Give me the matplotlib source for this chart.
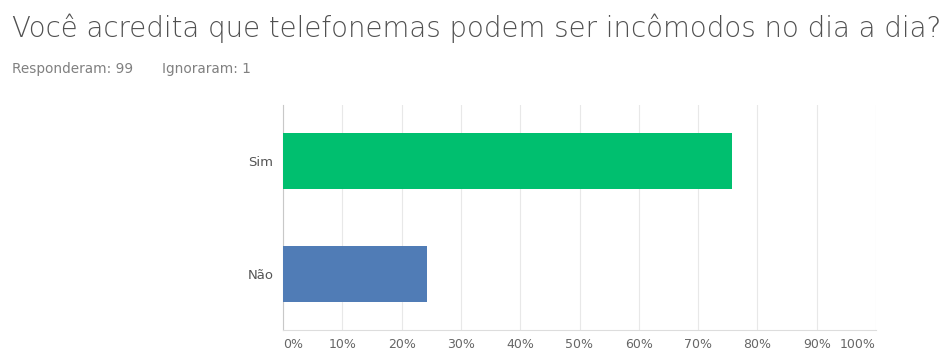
import matplotlib as mpl
mpl.use('Agg')
import matplotlib.pyplot as plt
from matplotlib.ticker import FuncFormatter

# data
categories = ['Sim', 'Não']
percents   = [75.76, 24.24]
bar_colors = ['#00bf6f', '#507cb6']
x_ticks    = [0, 10, 20, 30, 40, 50, 60, 70, 80, 90, 100]

title    = 'Você acredita que telefonemas podem ser incômodos no dia a dia?'
answered = 'Responderam: 99'
skipped  = 'Ignoraram: 1'

plt.rcParams['font.family'] = ['DejaVu Sans']

W, H = 942, 355
fig = plt.figure(figsize=(W / 100, H / 100), dpi=100)
ax = fig.add_axes([283 / W, 1 - 330 / H, 593 / W, 225 / H])

y_pos = list(range(len(categories)))
ax.barh(y_pos, percents, height=0.5, color=bar_colors, zorder=3)

ax.set_xlim(0, 100)
ax.set_ylim(1.5, -0.5)
ax.set_yticks(y_pos)
ax.set_yticklabels(categories, fontsize=9.5, color='#555555')
ax.set_xticks(x_ticks)
ax.xaxis.set_major_formatter(FuncFormatter(lambda v, p: '%d%%' % v))
ax.tick_params(axis='x', length=0, pad=6, labelsize=9, labelcolor='#666666')
ax.tick_params(axis='y', length=0, pad=7)

# first and last tick labels sit inside the axis ends
xlabels = ax.get_xticklabels()
xlabels[0].set_ha('left')
xlabels[-1].set_ha('right')

ax.grid(axis='x', color='#e8e8e8', linewidth=0.8, zorder=0)
for side in ['top', 'right']:
    ax.spines[side].set_visible(False)
ax.spines['left'].set_color('#c8c8c8')
ax.spines['bottom'].set_color('#dddddd')
ax.spines['left'].set_linewidth(0.8)
ax.spines['bottom'].set_linewidth(0.8)

# title stretched to the reference width (12 .. 940 px)
t = fig.text(12 / W, 1 - 37 / H, title, fontsize=19, color='#505050',
             fontweight='light', ha='left', va='baseline')
fig.canvas.draw()
w = t.get_window_extent().width
t.set_fontsize(19 * 928 / w)

fig.text(12 / W, 1 - 73 / H, answered, fontsize=9.8, color='#808080',
         ha='left', va='baseline')
fig.text(162 / W, 1 - 73 / H, skipped, fontsize=9.8, color='#808080',
         ha='left', va='baseline')

fig.savefig('out.png', dpi=100, facecolor='white')
